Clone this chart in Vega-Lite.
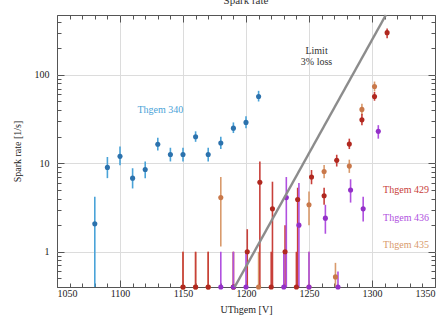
{
  "$schema": "https://vega.github.io/schema/vega-lite/v6.json",
  "width": 378,
  "height": 272,
  "autosize": {"type": "none"},
  "padding": {"left": 57, "top": 15, "right": 9, "bottom": 33},
  "background": "white",
  "title": {"text": "Spark rate", "fontSize": 11, "font": "Liberation Serif", "fontWeight": "normal", "offset": 4, "color": "#333"},
  "config": {
    "view": {"stroke": "#555", "strokeWidth": 1},
    "axis": {"labelFont": "Liberation Serif", "labelFontSize": 10, "labelColor": "#222", "titleFont": "Liberation Serif", "titleFontSize": 10, "titleFontWeight": "normal", "titleColor": "#222", "domain": false, "tickColor": "#555", "gridColor": "#dcdcdc", "labelOverlap": false}
  },
  "datasets": {
    "pts": [
      {"s": "340", "x": 1080, "y": 2.07, "lo": 0.4, "hi": 4.2},
      {"s": "340", "x": 1090, "y": 9, "lo": 6.8, "hi": 11.8},
      {"s": "340", "x": 1100, "y": 12, "lo": 9.5, "hi": 15.5},
      {"s": "340", "x": 1110, "y": 6.8, "lo": 5.2, "hi": 8.8},
      {"s": "340", "x": 1120, "y": 8.5, "lo": 6.8, "hi": 10.5},
      {"s": "340", "x": 1130, "y": 16.4, "lo": 14, "hi": 19.5},
      {"s": "340", "x": 1140, "y": 12.6, "lo": 10.5, "hi": 15},
      {"s": "340", "x": 1150, "y": 12.6, "lo": 10.5, "hi": 15},
      {"s": "340", "x": 1160, "y": 20, "lo": 17.5, "hi": 23},
      {"s": "340", "x": 1170, "y": 12.6, "lo": 10.5, "hi": 15},
      {"s": "340", "x": 1180, "y": 17, "lo": 14.5, "hi": 20},
      {"s": "340", "x": 1190, "y": 25, "lo": 22, "hi": 29},
      {"s": "340", "x": 1200, "y": 29, "lo": 25, "hi": 34},
      {"s": "340", "x": 1210, "y": 57, "lo": 50, "hi": 66},
      {"s": "435", "x": 1150, "y": 0.4, "lo": 0.4, "hi": 1},
      {"s": "435", "x": 1160, "y": 0.4, "lo": 0.4, "hi": 1},
      {"s": "435", "x": 1170, "y": 0.4, "lo": 0.4, "hi": 1},
      {"s": "435", "x": 1190, "y": 0.4, "lo": 0.4, "hi": 1},
      {"s": "435", "x": 1210, "y": 0.4, "lo": 0.4, "hi": 1},
      {"s": "435", "x": 1250, "y": 0.4, "lo": 0.4, "hi": 1},
      {"s": "435", "x": 1180, "y": 4.1, "lo": 1.15, "hi": 7},
      {"s": "435", "x": 1250, "y": 3.4, "lo": 2.0, "hi": 4.8},
      {"s": "435", "x": 1262, "y": 8.1, "lo": 6.8, "hi": 9.6},
      {"s": "435", "x": 1271, "y": 0.52, "lo": 0.4, "hi": 0.75},
      {"s": "435", "x": 1282, "y": 9.3, "lo": 7.8, "hi": 11},
      {"s": "435", "x": 1292, "y": 40.7, "lo": 35, "hi": 47},
      {"s": "435", "x": 1302, "y": 74, "lo": 65, "hi": 84},
      {"s": "429", "x": 1150, "y": 0.4, "lo": 0.4, "hi": 1},
      {"s": "429", "x": 1160, "y": 0.4, "lo": 0.4, "hi": 1},
      {"s": "429", "x": 1170, "y": 0.4, "lo": 0.4, "hi": 1},
      {"s": "429", "x": 1190, "y": 0.4, "lo": 0.4, "hi": 1},
      {"s": "429", "x": 1220, "y": 0.4, "lo": 0.4, "hi": 1},
      {"s": "429", "x": 1240, "y": 0.4, "lo": 0.4, "hi": 1},
      {"s": "429", "x": 1201, "y": 1, "lo": 0.4, "hi": 1.8},
      {"s": "429", "x": 1211, "y": 6.1, "lo": 0.4, "hi": 10.5},
      {"s": "429", "x": 1221, "y": 3.06, "lo": 0.4, "hi": 6.2},
      {"s": "429", "x": 1231, "y": 1, "lo": 0.4, "hi": 2},
      {"s": "429", "x": 1241, "y": 3.9, "lo": 0.4, "hi": 5.3},
      {"s": "429", "x": 1252, "y": 7, "lo": 5.8, "hi": 8.4},
      {"s": "429", "x": 1262, "y": 4.3, "lo": 3.4, "hi": 5.3},
      {"s": "429", "x": 1272, "y": 10.8, "lo": 9.2, "hi": 12.5},
      {"s": "429", "x": 1282, "y": 16.5, "lo": 14.5, "hi": 19},
      {"s": "429", "x": 1292, "y": 31, "lo": 27, "hi": 36},
      {"s": "429", "x": 1302, "y": 57, "lo": 51, "hi": 64},
      {"s": "429", "x": 1312, "y": 300, "lo": 260, "hi": 335},
      {"s": "436", "x": 1180, "y": 0.4, "lo": 0.4, "hi": 1},
      {"s": "436", "x": 1190, "y": 0.4, "lo": 0.4, "hi": 1},
      {"s": "436", "x": 1200, "y": 0.4, "lo": 0.4, "hi": 1},
      {"s": "436", "x": 1230, "y": 0.4, "lo": 0.4, "hi": 1},
      {"s": "436", "x": 1250, "y": 0.4, "lo": 0.4, "hi": 1},
      {"s": "436", "x": 1273, "y": 0.4, "lo": 0.4, "hi": 0.6},
      {"s": "436", "x": 1232, "y": 4.1, "lo": 0.4, "hi": 7},
      {"s": "436", "x": 1242, "y": 2.0, "lo": 0.4, "hi": 6},
      {"s": "436", "x": 1263, "y": 2.4, "lo": 1.6, "hi": 3.4},
      {"s": "436", "x": 1283, "y": 5.0, "lo": 3.6, "hi": 6.6},
      {"s": "436", "x": 1293, "y": 3.06, "lo": 2.2, "hi": 4.2},
      {"s": "436", "x": 1305, "y": 23, "lo": 19, "hi": 27}
    ],
    "limit": [{"x": 1191, "y": 0.4}, {"x": 1311, "y": 475}],
    "labels": [
      {"s": "340", "t": "Thgem 340", "x": 1132, "y": 40},
      {"s": "429", "t": "Thgem 429", "x": 1327, "y": 5.0},
      {"s": "436", "t": "Thgem 436", "x": 1327, "y": 2.42},
      {"s": "435", "t": "Thgem 435", "x": 1327, "y": 1.2}
    ],
    "limitlabel": [{"t": "Limit\n3% loss", "x": 1256, "y": 212}]
  },
  "layer": [
    {
      "data": {"name": "pts"},
      "mark": {"type": "rule", "strokeWidth": 1.6},
      "encoding": {
        "x": {"field": "x", "type": "quantitative", "scale": {"domain": [1050, 1350], "nice": false, "zero": false},
          "axis": {"orient": "bottom", "title": "UThgem [V]", "titlePadding": 3, "labelOverlap": false, "values": [1050,1060,1070,1080,1090,1100,1110,1120,1130,1140,1150,1160,1170,1180,1190,1200,1210,1220,1230,1240,1250,1260,1270,1280,1290,1300,1310,1320,1330,1340,1350],
            "labelExpr": "datum.value % 50 == 0 ? format(datum.value, 'd') : ''", "labelPadding": 8,
            "tickSize": {"condition": {"test": "datum.value % 50 == 0", "value": -7}, "value": -4},
            "gridOpacity": {"condition": {"test": "datum.value % 50 == 0 && datum.value > 1050 && datum.value < 1350", "value": 1}, "value": 0}}},
        "y": {"field": "lo", "type": "quantitative", "scale": {"type": "log", "domain": [0.4, 475], "nice": false},
          "axis": {"orient": "left", "title": "Spark rate [1/s]", "titlePadding": 12, "labelOverlap": false, "labelBound": false, "values": [0.4,0.5,0.6,0.7,0.8,0.9,1,2,3,4,5,6,7,8,9,10,20,30,40,50,60,70,80,90,100,200,300,400],
            "labelExpr": "datum.value == 1 ? '1' : datum.value == 10 ? '10' : datum.value == 100 ? '100' : ''", "labelPadding": 15,
            "tickSize": {"condition": {"test": "indexof([1,10,100], datum.value) >= 0", "value": -7}, "value": -4},
            "gridOpacity": {"condition": {"test": "indexof([1,10,100], datum.value) >= 0", "value": 1}, "value": 0}}},
        "y2": {"field": "hi"},
        "color": {"field": "s", "type": "nominal", "scale": {"domain": ["340", "429", "435", "436"], "range": ["#4aa3d8", "#c8403a", "#d99a6c", "#b050e0"]}, "legend": null}
      }
    },
    {
      "data": {"name": "pts"},
      "mark": {"type": "circle", "size": 26, "opacity": 1},
      "encoding": {
        "x": {"field": "x", "type": "quantitative", "axis": null},
        "y": {"field": "y", "type": "quantitative", "axis": null},
        "fill": {"field": "s", "type": "nominal", "scale": {"domain": ["340", "429", "435", "436"], "range": ["#2c72ad", "#b0281f", "#c9784a", "#9330c8"]}, "legend": null}
      }
    },
    {
      "data": {"name": "limit"},
      "mark": {"type": "line", "color": "#8c8c8c", "strokeWidth": 2.5},
      "encoding": {
        "x": {"field": "x", "type": "quantitative", "axis": {"orient": "top", "title": null, "labels": false, "grid": false, "values": [1050,1060,1070,1080,1090,1100,1110,1120,1130,1140,1150,1160,1170,1180,1190,1200,1210,1220,1230,1240,1250,1260,1270,1280,1290,1300,1310,1320,1330,1340,1350],
          "tickSize": {"condition": {"test": "datum.value % 50 == 0", "value": -7}, "value": -4}}},
        "y": {"field": "y", "type": "quantitative", "axis": {"orient": "right", "title": null, "labels": false, "grid": false, "values": [0.4,0.5,0.6,0.7,0.8,0.9,1,2,3,4,5,6,7,8,9,10,20,30,40,50,60,70,80,90,100,200,300,400],
          "tickSize": {"condition": {"test": "indexof([1,10,100], datum.value) >= 0", "value": -7}, "value": -4}}}
      }
    },
    {
      "data": {"name": "labels"},
      "mark": {"type": "text", "font": "Liberation Serif", "fontSize": 10, "align": "center", "baseline": "middle"},
      "encoding": {
        "x": {"field": "x", "type": "quantitative", "axis": null},
        "y": {"field": "y", "type": "quantitative", "axis": null},
        "text": {"field": "t"},
        "color": {"field": "s", "type": "nominal", "legend": null}
      }
    },
    {
      "data": {"name": "limitlabel"},
      "mark": {"type": "text", "font": "Liberation Serif", "fontSize": 10, "align": "center", "baseline": "top", "lineBreak": "\n", "color": "#333", "lineHeight": 11},
      "encoding": {
        "x": {"field": "x", "type": "quantitative", "axis": null},
        "y": {"field": "y", "type": "quantitative", "axis": null},
        "text": {"field": "t"}
      }
    }
  ],
  "resolve": {"axis": {"x": "independent", "y": "independent"}}
}
